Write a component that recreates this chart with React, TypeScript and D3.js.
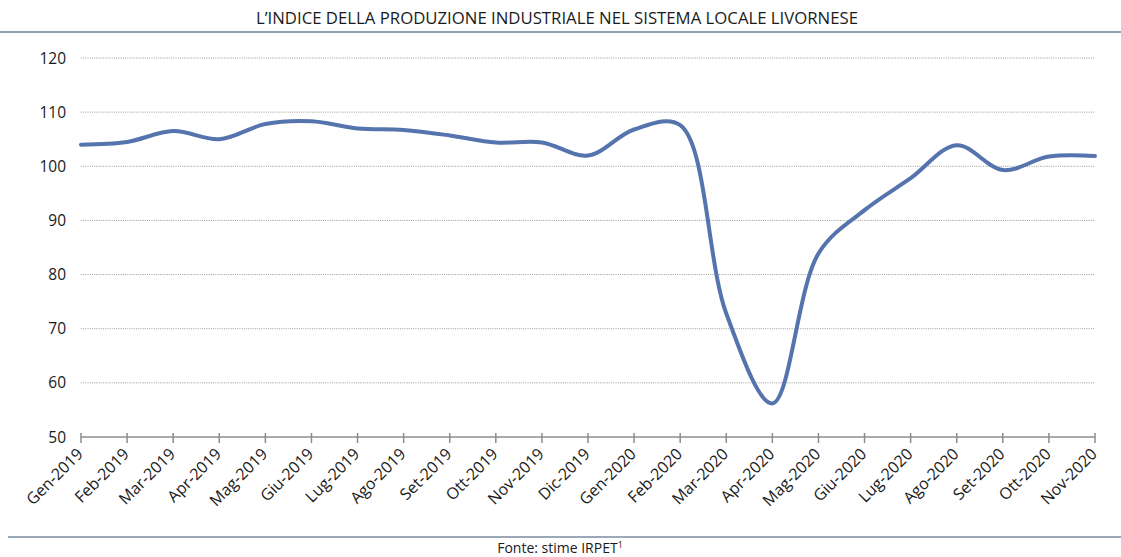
import React from "react";
import * as d3 from "d3";

const months = [
  "Gen-2019", "Feb-2019", "Mar-2019", "Apr-2019", "Mag-2019", "Giu-2019",
  "Lug-2019", "Ago-2019", "Set-2019", "Ott-2019", "Nov-2019", "Dic-2019",
  "Gen-2020", "Feb-2020", "Mar-2020", "Apr-2020", "Mag-2020", "Giu-2020",
  "Lug-2020", "Ago-2020", "Set-2020", "Ott-2020", "Nov-2020",
];
const values = [
  104.0, 104.5, 106.5, 105.0, 107.8, 108.3,
  107.0, 106.7, 105.7, 104.4, 104.4, 102.0,
  106.8, 107.6, 72.8, 56.2, 83.9, 91.9,
  97.8, 103.9, 99.3, 101.8, 101.9,
];
const yTicks = [50, 60, 70, 80, 90, 100, 110, 120];
const title = "L’INDICE DELLA PRODUZIONE INDUSTRIALE NEL SISTEMA LOCALE LIVORNESE";

const W = 1121;
const H = 557;
const left = 81;
const right = 1095;
const top = 58;
const bottom = 437;
const font = "'Open Sans', 'Noto Sans', sans-serif";

export default function App() {
  const x = d3.scalePoint<string>().domain(months).range([left, right]);
  const y = d3.scaleLinear().domain([50, 120]).range([bottom, top]);
  const line = d3
    .line<number>()
    .x((_, i) => x(months[i]) as number)
    .y((d) => y(d))
    .curve(d3.curveCatmullRom.alpha(0.5));

  return (
    <svg
      width={W}
      height={H}
      style={{ position: "absolute", left: 0, top: 0, background: "#fff" }}
    >
      <text
        x={557}
        y={24}
        textAnchor="middle"
        fontFamily={font}
        fontSize={15.5}
        fill="#1a1a1a"
        textLength={602}
        lengthAdjust="spacingAndGlyphs"
      >
        {title}
      </text>
      <line x1={0} x2={W} y1={32} y2={32} stroke="#8ea0b8" strokeWidth={2} />

      {yTicks.map((t) => (
        <g key={t}>
          {t !== 50 && (
            <line
              x1={left}
              x2={right}
              y1={y(t)}
              y2={y(t)}
              stroke="#9a9a9a"
              strokeWidth={1}
              strokeDasharray="1,1.2"
            />
          )}
          <text
            x={66}
            y={y(t) + 5.5}
            textAnchor="end"
            fontFamily={font}
            fontSize={15.5}
            fill="#1a1a1a"
          >
            {t}
          </text>
        </g>
      ))}

      <line x1={left} x2={right} y1={bottom} y2={bottom} stroke="#8c8c8c" strokeWidth={1.5} />
      {months.map((m) => (
        <g key={m}>
          <line
            x1={x(m)}
            x2={x(m)}
            y1={bottom - 4}
            y2={bottom + 6}
            stroke="#8c8c8c"
            strokeWidth={1.5}
          />
          <text
            transform={`translate(${(x(m) as number) + 3},${bottom + 18}) rotate(-45)`}
            textAnchor="end"
            fontFamily={font}
            fontSize={16}
            fill="#1a1a1a"
          >
            {m}
          </text>
        </g>
      ))}

      <path
        d={line(values) ?? ""}
        fill="none"
        stroke="#5573ad"
        strokeWidth={4}
        strokeLinejoin="round"
        strokeLinecap="round"
      />

      <line x1={8} x2={W} y1={537} y2={537} stroke="#9aa8b8" strokeWidth={2} />
      <text x={560} y={553} textAnchor="middle" fontFamily={font} fontSize={14} fill="#1a1a1a">
        Fonte: stime IRPET
        <tspan fontSize={9} dy={-5}>1</tspan>
      </text>
    </svg>
  );
}
